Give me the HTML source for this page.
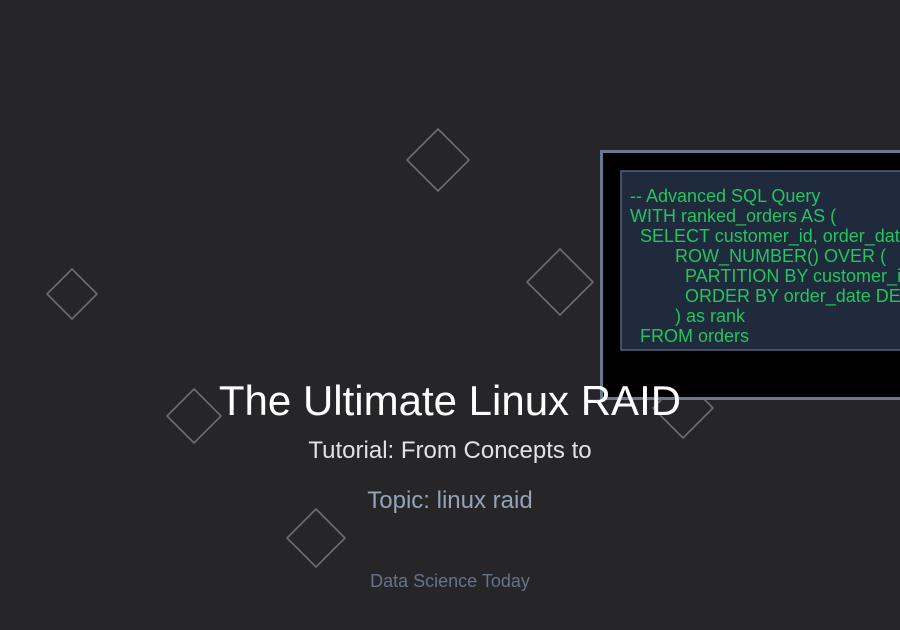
<!DOCTYPE html>
<html><head><style>body{margin:0;background:#262628}</style></head><body>
<svg width="900" height="630" xmlns="http://www.w3.org/2000/svg" style="display:block;font-family:'Liberation Sans',sans-serif">
<rect width="900" height="630" fill="#262628"/>
<g fill="none" stroke="#6e6e72" stroke-width="1.6">
<polygon points="438,129 469,160 438,191 407,160"/>
<polygon points="72,269 97,294 72,319 47,294"/>
<polygon points="560,249 593,282 560,315 527,282"/>
<polygon points="194,389 221,416 194,443 167,416"/>
<polygon points="316,509 345,538 316,567 287,538"/>
<polygon points="683,378 713,408 683,438 653,408"/>
</g>
<rect x="601.5" y="151.5" width="310" height="247" fill="#000" stroke="#6b7891" stroke-width="3"/>
<rect x="621" y="171" width="290" height="179" fill="#1f2a3c" stroke="#55627a" stroke-width="1.5"/>
<g fill="#22c55e" font-size="18">
<text x="630" y="202">-- Advanced SQL Query</text>
<text x="630" y="222">WITH ranked_orders AS (</text>
<text x="640" y="242">SELECT customer_id, order_date,</text>
<text x="675" y="262">ROW_NUMBER() OVER (</text>
<text x="685" y="282">PARTITION BY customer_id</text>
<text x="685" y="302">ORDER BY order_date DESC</text>
<text x="675" y="322">) as rank</text>
<text x="640" y="342">FROM orders</text>
</g>
<text x="450" y="415" text-anchor="middle" fill="#ffffff" font-size="42">The Ultimate Linux RAID</text>
<text x="450" y="458" text-anchor="middle" fill="#e2e2e2" font-size="24">Tutorial: From Concepts to</text>
<text x="450" y="508" text-anchor="middle" fill="#94a3b8" font-size="24">Topic: linux raid</text>
<text x="450" y="587" text-anchor="middle" fill="#64748b" font-size="18">Data Science Today</text>
</svg>
</body></html>
